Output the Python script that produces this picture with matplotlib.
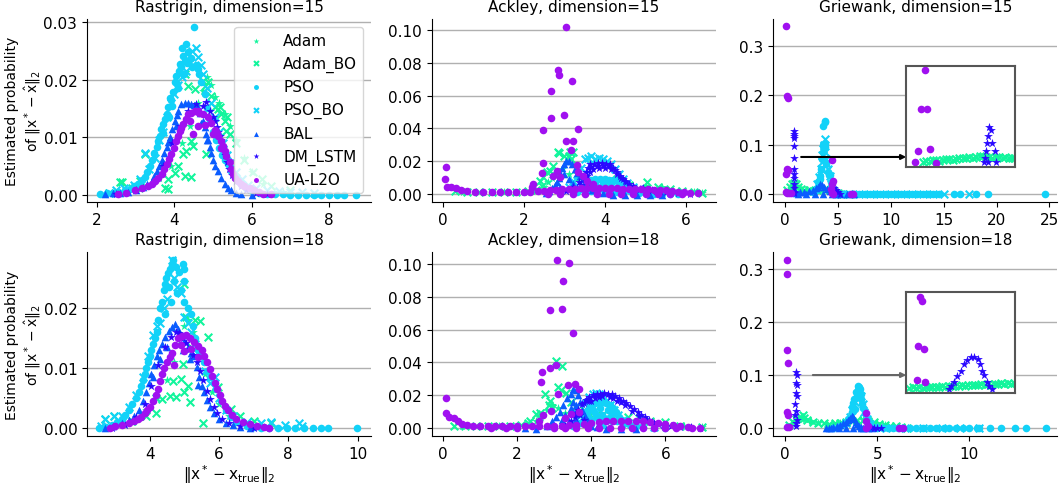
import numpy as np
import matplotlib
matplotlib.use('Agg')
import matplotlib.pyplot as plt

plt.rcParams['font.family'] = 'DejaVu Sans'
plt.rcParams['font.size'] = 11
plt.rcParams['mathtext.default'] = 'regular'

# (distance, estimated probability) points
METHODS = ['Adam', 'Adam_BO', 'PSO', 'PSO_BO', 'BAL', 'DM_LSTM', 'UA-L2O']

# ---- Rastrigin, dimension=15
R15_ADAM = [(2.6, 0.0003), (3.1, 0.001), (3.6, 0.003), (3.9, 0.005), (4.2, 0.009), (4.4, 0.012), (4.6, 0.016),
            (4.75, 0.018), (4.85, 0.0205), (4.95, 0.019), (5.05, 0.017), (5.15, 0.016), (5.3, 0.014),
            (5.45, 0.012), (5.6, 0.0095), (5.8, 0.0065), (6.0, 0.004), (6.3, 0.002), (6.8, 0.0006)]
R15_ADAM_BO = [(2.3, 0.0004), (2.59, 0.0022), (2.64, 0.0022), (2.9, 0.0012), (3.11, 0.0025), (3.24, 0.0071),
               (3.75, 0.0013), (3.83, 0.001), (3.84, 0.0028), (4.01, 0.0039), (4.1, 0.0051), (4.22, 0.0071),
               (4.27, 0.0033), (4.31, 0.0077), (4.44, 0.0031), (4.44, 0.0094), (4.48, 0.0085), (4.83, 0.0071),
               (4.27, 0.021), (4.35, 0.0189), (4.53, 0.0184), (4.74, 0.0198), (4.78, 0.0189), (4.87, 0.0195),
               (4.96, 0.0172), (4.99, 0.0132), (5.04, 0.0152), (5.13, 0.0149), (5.17, 0.0152), (5.21, 0.014),
               (5.3, 0.0129), (5.34, 0.0111), (5.35, 0.0135), (5.45, 0.0105), (5.6, 0.009), (5.8, 0.006),
               (6.03, 0.004), (6.28, 0.0028), (6.5, 0.0015), (7.0, 0.0008)]
R15_PSO = [(2.08, 0.0002), (2.25, 0.0003), (2.4, 0.0004), (2.55, 0.0006), (2.72, 0.0008), (2.85, 0.0011),
           (2.96, 0.0015), (3.06, 0.0019), (3.16, 0.0026), (3.24, 0.0032), (3.3, 0.004), (3.36, 0.005),
           (3.41, 0.006), (3.47, 0.0072), (3.54, 0.0083), (3.58, 0.0093), (3.62, 0.0103), (3.66, 0.0114),
           (3.71, 0.0123), (3.75, 0.0132), (3.8, 0.014), (3.84, 0.0152), (3.88, 0.0169), (3.92, 0.0165),
           (3.96, 0.0178), (4.01, 0.0195), (4.05, 0.0207), (4.08, 0.0192), (4.12, 0.0215), (4.14, 0.0227),
           (4.18, 0.0222), (4.22, 0.0241), (4.27, 0.0232), (4.31, 0.0262), (4.36, 0.0248), (4.4, 0.0236),
           (4.44, 0.0237), (4.5, 0.0292), (4.55, 0.0225), (4.6, 0.0218), (4.65, 0.021), (4.7, 0.0195),
           (4.78, 0.0175), (4.85, 0.015), (4.92, 0.013), (5.0, 0.011), (5.08, 0.0095), (5.15, 0.0082),
           (5.22, 0.007), (5.3, 0.006), (5.38, 0.0054), (5.46, 0.0042), (5.56, 0.0031), (5.65, 0.0024),
           (5.73, 0.0019), (5.85, 0.0012), (6.0, 0.0007), (6.2, 0.0004), (6.4, 0.0002), (6.6, 0.0001),
           (6.8, 0.0001), (7.0, 0.0), (7.2, 0.0), (7.4, 0.0), (7.6, 0.0), (7.8, 0.0), (8.0, 0.0), (8.2, 0.0),
           (8.4, 0.0), (8.7, 0.0), (3.95, 0.0155), (4.1, 0.0185), (4.25, 0.021), (4.2, 0.0255), (4.33, 0.0228),
           (4.46, 0.0222), (3.85, 0.0135), (3.7, 0.0108)]
R15_PSO_BO = [(2.3, 0.0003), (2.5, 0.0008), (2.7, 0.0012), (2.95, 0.0018), (3.1, 0.0028), (3.24, 0.0072),
              (3.35, 0.0045), (3.5, 0.0065), (3.6, 0.0095), (3.7, 0.011), (3.82, 0.0135), (3.9, 0.016),
              (4.0, 0.0175), (4.1, 0.019), (4.2, 0.0205), (4.3, 0.0215), (4.38, 0.0232), (4.45, 0.025),
              (4.55, 0.0255), (4.6, 0.024), (4.68, 0.0225), (4.75, 0.021), (4.85, 0.0185), (4.95, 0.016),
              (5.05, 0.0135), (5.15, 0.011), (5.25, 0.009), (5.35, 0.007), (5.45, 0.0055), (5.6, 0.004),
              (5.75, 0.0028), (5.9, 0.0018), (6.1, 0.0012), (6.4, 0.0009), (6.7, 0.0007), (7.0, 0.0006),
              (7.3, 0.0005), (7.6, 0.0003)]
R15_BAL = [(2.2, 0.0002), (2.4, 0.0003), (2.6, 0.0004), (2.8, 0.0005), (3.0, 0.0009), (3.19, 0.0014),
           (3.3, 0.0019), (3.41, 0.0025), (3.48, 0.0033), (3.54, 0.0042), (3.6, 0.005), (3.67, 0.006),
           (3.74, 0.0072), (3.8, 0.0083), (3.84, 0.0092), (3.88, 0.01), (3.94, 0.0115), (4.01, 0.0129),
           (4.06, 0.0138), (4.1, 0.0146), (4.18, 0.0158), (4.27, 0.016), (4.36, 0.0159), (4.44, 0.0158),
           (4.52, 0.0156), (4.6, 0.0153), (4.67, 0.0142), (4.74, 0.0129), (4.79, 0.0118), (4.83, 0.0106),
           (4.87, 0.0095), (4.91, 0.0083), (4.95, 0.0072), (5.0, 0.006), (5.06, 0.005), (5.12, 0.0042),
           (5.21, 0.003), (5.3, 0.0019), (5.38, 0.0013), (5.47, 0.0008), (5.6, 0.0004), (5.73, 0.0002),
           (6.0, 0.0), (3.7, 0.0058), (3.9, 0.0095), (4.05, 0.012), (4.7, 0.0125), (4.85, 0.0095)]
R15_DM = [(2.5, 0.0002), (3.0, 0.0008), (3.4, 0.002), (3.7, 0.005), (3.95, 0.009), (4.15, 0.012), (4.35, 0.0145),
          (4.55, 0.0158), (4.74, 0.0155), (4.83, 0.0161), (4.92, 0.0145), (5.0, 0.0135), (5.04, 0.0129),
          (5.1, 0.0118), (5.13, 0.011), (5.17, 0.0102), (5.21, 0.0095), (5.26, 0.0082), (5.3, 0.007),
          (5.36, 0.0058), (5.42, 0.0046), (5.5, 0.0035), (5.6, 0.0024), (5.72, 0.0015), (5.85, 0.0008),
          (6.1, 0.0003), (6.4, 0.0001)]
R15_UA = [(2.55, 0.0002), (2.75, 0.0004), (2.98, 0.0008), (3.15, 0.0012), (3.33, 0.0016), (3.42, 0.002),
          (3.5, 0.0025), (3.58, 0.003), (3.67, 0.0036), (3.74, 0.0045), (3.8, 0.0054), (3.86, 0.0062),
          (3.92, 0.0071), (3.98, 0.0082), (4.05, 0.0094), (4.1, 0.0102), (4.14, 0.0111), (4.18, 0.0117),
          (4.22, 0.0123), (4.29, 0.0132), (4.35, 0.014), (4.44, 0.0143), (4.53, 0.0146), (4.6, 0.0145),
          (4.65, 0.0143), (4.75, 0.014), (4.87, 0.0135), (4.96, 0.0125), (5.04, 0.0113), (5.09, 0.0108),
          (5.13, 0.0102), (5.2, 0.0094), (5.26, 0.0085), (5.3, 0.0076), (5.34, 0.0068), (5.43, 0.0057),
          (5.47, 0.0046), (5.51, 0.0036), (5.58, 0.003), (5.64, 0.0025), (5.72, 0.002), (5.81, 0.0016),
          (5.95, 0.0012), (6.07, 0.0008), (6.2, 0.0005), (6.3, 0.0002), (6.5, 0.0001), (4.48, 0.0105),
          (4.62, 0.012), (4.8, 0.0122), (5.0, 0.0105), (4.4, 0.0128), (5.2, 0.0082)]

# ---- Ackley, dimension=15
A15_ADAM = [(0.5, 0.0012), (1.0, 0.0012), (1.5, 0.0012), (2.0, 0.0013), (2.3, 0.002), (2.5, 0.004), (2.6, 0.007),
            (2.7, 0.01), (2.8, 0.013), (2.95, 0.015), (3.1, 0.012), (3.3, 0.009), (3.7, 0.0081), (4.0, 0.007),
            (4.29, 0.0092), (4.6, 0.006), (5.0, 0.005), (5.4, 0.004), (5.8, 0.002), (6.2, 0.001), (6.4, 0.0005)]
A15_ADAM_BO = [(0.3, 0.0015), (0.6, 0.0013), (0.9, 0.0012), (1.2, 0.0013), (1.5, 0.0012), (1.8, 0.0014),
               (2.1, 0.0015), (2.3, 0.0025), (2.4, 0.0081), (2.44, 0.005), (2.48, 0.0102), (2.56, 0.0132),
               (2.64, 0.0142), (2.72, 0.017), (2.85, 0.0254), (2.86, 0.0248), (2.99, 0.0234), (3.12, 0.0234),
               (3.14, 0.0254), (3.16, 0.0213), (3.22, 0.0254), (3.3, 0.015), (3.4, 0.011), (3.7, 0.0081),
               (4.0, 0.006), (4.29, 0.0092), (4.6, 0.0055), (5.03, 0.0071), (5.3, 0.004), (5.6, 0.003),
               (5.9, 0.002), (6.2, 0.001), (6.4, 0.0003)]
A15_PSO = [(3.3, 0.001), (3.4, 0.003), (3.5, 0.005), (3.58, 0.007), (3.66, 0.0085), (3.75, 0.009), (3.88, 0.0092),
           (4.0, 0.009), (4.1, 0.0088), (4.2, 0.0085), (4.3, 0.008), (4.4, 0.0068), (4.48, 0.005), (4.55, 0.0035),
           (4.62, 0.002), (4.7, 0.0012), (4.85, 0.0006), (5.0, 0.0003), (5.2, 0.0001), (5.4, 0.0), (5.6, 0.0),
           (5.8, 0.0), (3.7, 0.005), (3.9, 0.0045), (4.1, 0.004), (4.3, 0.0035), (3.8, 0.002), (4.05, 0.0015),
           (4.3, 0.001), (3.6, 0.0035), (3.75, 0.0065), (3.95, 0.007), (4.15, 0.0065), (4.35, 0.0055),
           (4.5, 0.0025), (3.65, 0.0015), (4.2, 0.002), (4.45, 0.0015), (3.95, 0.003)]
A15_PSO_BO = [(3.1, 0.004), (3.2, 0.008), (3.3, 0.012), (3.4, 0.016), (3.5, 0.0213), (3.58, 0.022), (3.66, 0.023),
              (3.75, 0.0215), (3.85, 0.0222), (3.95, 0.0213), (4.05, 0.02), (4.15, 0.0185), (4.25, 0.015),
              (4.35, 0.012), (4.45, 0.009), (4.55, 0.0065), (4.7, 0.0045), (4.85, 0.003), (5.0, 0.002),
              (5.3, 0.001), (5.7, 0.0004)]
A15_BAL = [(2.55, 0.0005), (2.62, 0.0015), (2.7, 0.0035), (2.76, 0.0055), (2.81, 0.0071), (2.86, 0.01), (2.9, 0.013),
           (2.95, 0.016), (3.0, 0.0185), (3.05, 0.0203), (3.12, 0.02), (3.18, 0.018), (3.25, 0.0155),
           (3.32, 0.013), (3.38, 0.0112), (3.45, 0.009), (3.52, 0.0065), (3.6, 0.0045), (3.68, 0.0025),
           (3.8, 0.0012), (3.95, 0.0005), (4.2, -0.0005), (4.5, -0.0008), (4.8, -0.0008), (5.1, -0.0006),
           (5.4, -0.0004), (3.0, 0.012), (3.1, 0.009), (3.2, 0.006), (2.9, 0.004), (3.3, 0.004)]
A15_DM = [(2.9, 0.0008), (3.05, 0.002), (3.2, 0.004), (3.35, 0.007), (3.46, 0.0102), (3.52, 0.0135), (3.58, 0.016),
          (3.63, 0.0183), (3.72, 0.0185), (3.82, 0.0186), (3.92, 0.0187), (4.02, 0.0185), (4.13, 0.0183),
          (4.2, 0.016), (4.29, 0.0132), (4.37, 0.0112), (4.45, 0.0092), (4.53, 0.007), (4.61, 0.0051),
          (4.72, 0.0038), (4.86, 0.003), (5.05, 0.0025), (5.27, 0.002), (5.5, 0.0012), (5.8, 0.0006),
          (6.1, 0.0002), (3.65, 0.0165), (3.8, 0.0168), (3.95, 0.017), (4.1, 0.0168), (3.55, 0.011),
          (4.25, 0.0145), (3.7, 0.0155), (3.85, 0.0158), (4.0, 0.0158), (4.15, 0.0155), (4.3, 0.012),
          (4.4, 0.0095), (4.5, 0.0078), (3.62, 0.0135), (3.5, 0.0085), (3.4, 0.0055), (4.6, 0.0062),
          (4.7, 0.0048), (4.95, 0.0035), (5.15, 0.0025), (5.35, 0.0018)]
A15_UA = [(0.07, 0.0167), (0.06, 0.0092), (0.1, 0.0045), (0.2, 0.004), (0.33, 0.0039), (0.45, 0.0025),
          (0.6, 0.0015), (0.8, 0.0012), (1.0, 0.001), (1.2, 0.001), (1.4, 0.001), (1.6, 0.001), (1.8, 0.001),
          (2.0, 0.001), (2.15, 0.0012), (2.21, 0.004), (2.23, 0.006), (2.44, 0.0126), (2.48, 0.0187),
          (2.46, 0.0392), (2.66, 0.0461), (2.67, 0.063), (2.71, 0.0112), (2.81, 0.0142), (2.84, 0.0756),
          (2.87, 0.0726), (2.89, 0.0102), (3.0, 0.0484), (3.03, 0.102), (3.04, 0.0321), (3.16, 0.027),
          (3.18, 0.0687), (3.2, 0.0321), (3.3, 0.0177), (3.34, 0.0396), (3.34, 0.0132), (3.45, 0.011),
          (3.55, 0.008), (3.7, 0.006), (2.35, 0.0015), (2.5, 0.002), (2.65, 0.0022), (2.8, 0.0025),
          (2.95, 0.0028), (3.1, 0.003), (3.25, 0.0032), (3.4, 0.0035), (3.55, 0.0035), (3.7, 0.0035),
          (3.85, 0.0035), (4.0, 0.0035), (4.15, 0.0035), (4.3, 0.0035), (4.45, 0.0033), (4.6, 0.0032),
          (4.75, 0.003), (4.9, 0.003), (5.05, 0.0028), (5.2, 0.0026), (5.35, 0.0025), (5.5, 0.0022),
          (5.65, 0.0018), (5.8, 0.0014), (5.95, 0.001), (6.1, 0.0007), (6.3, 0.0004), (2.6, 0.0), (2.9, 0.0),
          (3.2, 0.0), (3.5, 0.0), (3.8, 0.0), (4.1, 0.0), (4.4, 0.0), (4.7, 0.0), (5.0, 0.0), (5.3, 0.0),
          (5.6, 0.0), (5.9, 0.0)]

# ---- Griewank, dimension=15
G15_ADAM = [(0.3, 0.005), (0.5, 0.012), (0.7, 0.018), (0.9, 0.02), (1.1, 0.016), (1.3, 0.012), (1.6, 0.009),
            (2.0, 0.007), (2.5, 0.006), (3.0, 0.008), (3.5, 0.01), (4.0, 0.008), (4.5, 0.005), (5.0, 0.002),
            (5.5, 0.001)]
G15_ADAM_BO = [(0.2, 0.008), (0.4, 0.015), (0.6, 0.02), (0.8, 0.022), (1.0, 0.02), (1.2, 0.015), (1.5, 0.011),
               (1.8, 0.009), (2.2, 0.008), (2.6, 0.007), (3.0, 0.009), (3.4, 0.011), (3.8, 0.01), (4.2, 0.008),
               (4.6, 0.005), (5.0, 0.003), (5.5, 0.001), (6.0, 0.0005)]
G15_PSO = [(2.6, 0.004), (2.9, 0.008), (3.1, 0.025), (3.25, 0.037), (3.3, 0.03), (3.4, 0.05), (3.5, 0.07),
           (3.55, 0.085), (3.6, 0.1), (3.57, 0.138), (3.72, 0.145), (3.73, 0.148), (3.78, 0.102), (3.8, 0.095),
           (3.9, 0.06), (4.0, 0.045), (4.1, 0.038), (4.2, 0.038), (4.3, 0.025), (4.4, 0.012), (4.5, 0.004),
           (4.7, 0.001), (5.0, 0.0), (5.5, 0.0), (6.0, 0.0), (6.5, 0.0), (7.0, 0.0), (7.5, 0.0), (8.0, 0.0),
           (8.5, 0.0), (9.0, 0.0), (9.5, 0.0), (10.0, 0.0), (10.5, 0.0), (11.0, 0.0), (11.5, 0.0), (12.0, 0.0),
           (12.5, 0.0), (13.0, 0.0), (13.5, 0.0), (14.0, 0.0), (14.6, 0.0), (16.0, 0.0), (16.5, 0.0),
           (18.1, 0.0), (19.2, 0.0), (24.6, 0.0)]
G15_PSO_BO = [(3.0, 0.02), (3.2, 0.035), (3.35, 0.05), (3.45, 0.065), (3.5, 0.08), (3.57, 0.091), (3.62, 0.1),
              (3.72, 0.111), (3.68, 0.098), (3.8, 0.085), (3.88, 0.071), (3.95, 0.06), (4.05, 0.05), (4.2, 0.037),
              (4.35, 0.02), (4.5, 0.008), (4.8, 0.002), (5.3, 0.0), (6.0, 0.0), (7.0, 0.0), (8.0, 0.0), (9.0, 0.0),
              (10.0, 0.0), (11.0, 0.0), (12.0, 0.0), (13.0, 0.0), (14.0, 0.0), (15.0, 0.0), (17.4, 0.0)]
G15_BAL = [(1.0, 0.003), (1.4, 0.004), (1.8, 0.005), (2.2, 0.007), (2.6, 0.009), (2.9, 0.012), (3.1, 0.015),
           (3.25, 0.02), (3.45, 0.018), (3.7, 0.014), (3.95, 0.01), (4.2, 0.006), (4.5, 0.003), (4.8, 0.001),
           (5.2, 0.0), (5.8, 0.0), (6.5, 0.0), (1.2, 0.0), (2.0, 0.0), (2.8, 0.0), (3.6, 0.0), (4.4, 0.0)]
G15_DM = [(0.8, 0.128), (0.85, 0.122), (0.82, 0.118), (0.8, 0.114), (0.83, 0.097), (0.82, 0.073), (0.85, 0.05),
          (0.8, 0.04), (0.83, 0.032), (0.86, 0.02), (0.82, 0.012), (0.8, 0.005), (0.85, 0.002), (4.6, 0.012),
          (4.8, 0.008), (5.0, 0.004), (5.2, 0.001)]
G15_UA = [(0.1, 0.339), (0.19, 0.198), (0.22, 0.195), (0.2, 0.05), (0.1, 0.04), (0.22, 0.048), (0.1, 0.005),
          (0.2, 0.002), (0.35, 0.003), (0.5, 0.002), (4.45, 0.069), (4.5, 0.027), (4.4, 0.02), (4.35, 0.01),
          (4.4, 0.003), (4.5, 0.0), (6.2, 0.0), (6.4, 0.0)]
# zoomed box near the origin
G15_IN_UA = [(0.185, 0.335), (0.151, 0.202), (0.208, 0.202), (0.242, 0.064), (0.121, 0.054), (0.09, 0.019),
             (0.297, 0.015)]
G15_IN_DM = [(0.836, 0.137), (0.858, 0.13), (0.822, 0.107), (0.814, 0.084), (0.869, 0.084), (0.803, 0.056),
             (0.891, 0.056), (0.799, 0.032), (0.902, 0.018), (0.788, 0.018), (0.822, 0.018)]
G15_IN_ADAM_BO = [(0.167, 0.0186), (0.2, 0.021), (0.235, 0.0207), (0.27, 0.024), (0.302, 0.0231), (0.335, 0.022),
                  (0.369, 0.0242), (0.4, 0.027), (0.436, 0.0266), (0.47, 0.025), (0.503, 0.029), (0.535, 0.031),
                  (0.57, 0.0322), (0.6, 0.03), (0.637, 0.0347), (0.67, 0.033), (0.704, 0.0357), (0.74, 0.037),
                  (0.771, 0.0382), (0.8, 0.034), (0.838, 0.0357), (0.87, 0.032), (0.905, 0.0336), (0.94, 0.035),
                  (0.972, 0.0322), (1.0, 0.034), (1.04, 0.0312), (1.07, 0.033), (1.09, 0.03)]

# ---- Rastrigin, dimension=18
R18_ADAM = [(2.9, 0.0003), (3.5, 0.001), (3.9, 0.003), (4.2, 0.005), (4.5, 0.008), (4.7, 0.011), (4.85, 0.014),
            (5.0, 0.017), (5.1, 0.018), (5.25, 0.016), (5.4, 0.013), (5.6, 0.009), (5.8, 0.006), (6.0, 0.004),
            (6.3, 0.002), (6.8, 0.0006), (7.3, 0.0002)]
R18_ADAM_BO = [(2.7, 0.0015), (2.98, 0.002), (3.5, 0.0012), (3.9, 0.002), (4.19, 0.0026), (4.19, 0.005),
               (4.35, 0.0049), (4.58, 0.0054), (4.67, 0.0079), (4.75, 0.0052), (4.91, 0.0082), (4.96, 0.0107),
               (4.98, 0.006), (5.0, 0.024), (5.05, 0.0185), (5.15, 0.0043), (5.1, 0.007), (5.2, 0.0135),
               (5.3, 0.018), (5.44, 0.0179), (5.53, 0.0009), (5.68, 0.0151), (5.97, 0.0068), (6.35, 0.0032),
               (6.6, 0.002), (7.0, 0.0012), (7.5, 0.0008)]
R18_PSO = [(2.55, 0.0), (2.75, 0.0002), (2.9, 0.0005), (3.05, 0.001), (3.2, 0.0015), (3.3, 0.0022), (3.4, 0.003),
           (3.5, 0.004), (3.6, 0.005), (3.68, 0.006), (3.75, 0.007), (3.8, 0.008), (3.85, 0.009), (3.9, 0.01),
           (3.95, 0.011), (4.0, 0.012), (4.05, 0.013), (4.1, 0.014), (4.15, 0.015), (4.2, 0.016), (4.25, 0.018),
           (4.3, 0.02), (4.35, 0.021), (4.4, 0.023), (4.44, 0.024), (4.48, 0.025), (4.53, 0.0258), (4.58, 0.0265),
           (4.63, 0.0272), (4.67, 0.0279), (4.75, 0.0268), (4.85, 0.026), (4.96, 0.0273), (4.99, 0.0265),
           (5.0, 0.0245), (4.91, 0.023), (5.0, 0.021), (5.1, 0.02), (5.18, 0.019), (5.25, 0.017), (5.32, 0.015),
           (5.4, 0.013), (5.48, 0.012), (5.56, 0.011), (5.65, 0.0095), (5.75, 0.0085), (5.9, 0.0065),
           (6.05, 0.0045), (6.2, 0.003), (6.35, 0.0018), (6.5, 0.001), (6.8, 0.0004), (7.0, 0.0002), (7.2, 0.0),
           (7.45, 0.0), (7.7, 0.0), (7.95, 0.0), (8.2, 0.0), (8.45, 0.0), (8.7, 0.0), (8.95, 0.0), (9.15, 0.0),
           (9.97, 0.0), (4.55, 0.0235), (4.7, 0.0245), (4.8, 0.0225), (4.6, 0.021), (4.45, 0.019)]
R18_PSO_BO = [(2.6, 0.0003), (2.7, 0.0015), (2.98, 0.002), (3.2, 0.002), (3.4, 0.0035), (3.6, 0.0055),
              (3.8, 0.0085), (3.95, 0.012), (4.1, 0.0155), (4.2, 0.017), (4.3, 0.0175), (4.4, 0.02),
              (4.5, 0.0215), (4.65, 0.028), (4.7, 0.025), (4.8, 0.0235), (4.9, 0.0225), (5.0, 0.0185),
              (5.1, 0.0175), (5.2, 0.016), (5.3, 0.014), (5.44, 0.012), (5.6, 0.0095), (5.75, 0.0075),
              (5.87, 0.0085), (6.0, 0.005), (6.2, 0.003), (6.4, 0.002), (6.8, 0.001), (7.2, 0.0008),
              (7.5, 0.001), (7.9, 0.0005), (8.3, 0.0008), (8.4, 0.0003)]
R18_BAL = [(2.7, 0.0), (2.95, 0.0003), (3.2, 0.0008), (3.4, 0.0013), (3.55, 0.002), (3.7, 0.003), (3.8, 0.0045),
           (3.9, 0.006), (3.98, 0.0075), (4.05, 0.009), (4.12, 0.0105), (4.2, 0.012), (4.28, 0.013), (4.35, 0.014),
           (4.45, 0.0152), (4.55, 0.0162), (4.65, 0.0168), (4.73, 0.0173), (4.82, 0.0165), (4.9, 0.0155),
           (5.0, 0.0145), (5.1, 0.0135), (5.2, 0.0125), (5.28, 0.012), (5.35, 0.0102), (5.42, 0.0085),
           (5.5, 0.007), (5.56, 0.006), (5.65, 0.0047), (5.75, 0.0035), (5.85, 0.0025), (6.0, 0.0015),
           (6.2, 0.0009), (6.4, 0.0005), (6.6, 0.0002), (6.9, 0.0), (4.1, 0.0085), (4.3, 0.0115), (4.5, 0.0135),
           (4.95, 0.013), (5.15, 0.0115), (5.4, 0.0072)]
R18_DM = [(2.9, 0.0001), (3.3, 0.0006), (3.6, 0.0018), (3.85, 0.004), (4.05, 0.007), (4.25, 0.0105),
          (4.45, 0.0135), (4.6, 0.0152), (4.75, 0.016), (4.85, 0.0158), (4.95, 0.015), (5.05, 0.0142),
          (5.15, 0.0132), (5.25, 0.0122), (5.35, 0.011), (5.45, 0.0095), (5.55, 0.008), (5.65, 0.0062),
          (5.75, 0.0048), (5.85, 0.0035), (5.95, 0.0025), (6.1, 0.0015), (6.3, 0.0008), (6.6, 0.0003),
          (7.0, 0.0001)]
R18_UA = [(2.85, 0.0), (3.0, 0.0003), (3.2, 0.0005), (3.4, 0.0008), (3.55, 0.0012), (3.65, 0.0015),
          (3.75, 0.0018), (3.85, 0.0025), (3.92, 0.003), (4.0, 0.0035), (4.08, 0.0045), (4.17, 0.0055),
          (4.25, 0.0065), (4.3, 0.0078), (4.35, 0.009), (4.42, 0.01), (4.5, 0.011), (4.58, 0.0118),
          (4.65, 0.0125), (4.74, 0.0138), (4.83, 0.015), (4.93, 0.0153), (5.05, 0.0155), (5.16, 0.015),
          (5.28, 0.0143), (5.4, 0.0137), (5.5, 0.013), (5.58, 0.012), (5.65, 0.011), (5.73, 0.0098),
          (5.8, 0.0087), (5.88, 0.0075), (5.95, 0.0065), (6.02, 0.0055), (6.1, 0.0045), (6.18, 0.0037),
          (6.25, 0.003), (6.38, 0.0022), (6.5, 0.0015), (6.7, 0.001), (6.9, 0.0007), (7.1, 0.0004),
          (7.3, 0.0002), (7.45, 0.0001), (4.7, 0.0105), (5.0, 0.0128), (5.2, 0.0132), (5.4, 0.0118),
          (4.9, 0.0138)]

# ---- Ackley, dimension=18
A18_ADAM = [(0.5, 0.0012), (1.0, 0.0012), (1.5, 0.0012), (2.0, 0.0013), (2.3, 0.002), (2.5, 0.004), (2.65, 0.007),
            (2.8, 0.011), (2.95, 0.014), (3.1, 0.012), (3.3, 0.009), (3.6, 0.008), (4.0, 0.007), (4.5, 0.006),
            (5.0, 0.005), (5.5, 0.004), (6.0, 0.002), (6.5, 0.001), (7.0, 0.0005)]
A18_ADAM_BO = [(0.3, 0.0015), (0.6, 0.0014), (0.9, 0.0013), (1.2, 0.0014), (1.5, 0.0013), (1.8, 0.0015),
               (2.1, 0.0016), (2.34, 0.0045), (2.28, 0.003), (2.52, 0.0085), (2.63, 0.009), (2.74, 0.0207),
               (2.88, 0.0167), (2.86, 0.014), (2.95, 0.012), (3.06, 0.041), (3.1, 0.0248), (3.18, 0.023),
               (3.21, 0.038), (3.31, 0.0215), (3.45, 0.016), (3.6, 0.013), (3.8, 0.011), (4.0, 0.01), (4.3, 0.008),
               (4.6, 0.007), (5.0, 0.0065), (5.3, 0.006), (5.6, 0.004), (6.0, 0.0035), (6.4, 0.0015),
               (7.0, 0.0005)]
A18_PSO = [(3.5, 0.001), (3.7, 0.003), (3.8, 0.006), (3.88, 0.009), (3.95, 0.012), (4.02, 0.014), (4.1, 0.0155),
           (4.2, 0.016), (4.3, 0.016), (4.4, 0.0155), (4.5, 0.014), (4.58, 0.012), (4.66, 0.0095), (4.74, 0.007),
           (4.82, 0.005), (4.92, 0.0032), (5.05, 0.002), (5.2, 0.001), (5.4, 0.0005), (5.7, 0.0002), (6.0, 0.0),
           (4.1, 0.009), (4.3, 0.008), (4.5, 0.007), (4.2, 0.004), (4.4, 0.004), (4.0, 0.005), (4.05, 0.011),
           (4.25, 0.012), (4.45, 0.011), (4.6, 0.009), (4.15, 0.0065), (4.35, 0.006), (4.55, 0.0045),
           (3.9, 0.007), (4.7, 0.004), (4.3, 0.002), (4.0, 0.0025)]
A18_PSO_BO = [(3.6, 0.005), (3.75, 0.01), (3.85, 0.015), (3.95, 0.019), (4.04, 0.021), (4.13, 0.0215),
              (4.22, 0.0205), (4.32, 0.019), (4.42, 0.017), (4.52, 0.014), (4.62, 0.011), (4.72, 0.008),
              (4.85, 0.005), (5.0, 0.003), (5.3, 0.0015), (5.7, 0.0006)]
A18_BAL = [(2.8, 0.0015), (2.95, 0.004), (3.05, 0.007), (3.15, 0.01), (3.25, 0.014), (3.35, 0.018), (3.45, 0.021),
           (3.52, 0.0235), (3.58, 0.023), (3.64, 0.02), (3.7, 0.016), (3.76, 0.011), (3.82, 0.0075), (3.9, 0.004),
           (4.0, 0.0015), (4.15, 0.0005), (3.3, 0.008), (3.45, 0.012), (3.55, 0.009), (3.4, 0.004), (3.6, 0.005),
           (4.4, -0.0005), (4.8, -0.0005), (5.2, -0.0004), (2.5, -0.0004), (2.2, -0.0003), (3.5, 0.016),
           (3.6, 0.014), (3.2, 0.005)]
A18_DM = [(3.3, 0.0015), (3.45, 0.004), (3.55, 0.007), (3.65, 0.011), (3.75, 0.0145), (3.85, 0.017), (3.95, 0.019),
          (4.05, 0.02), (4.15, 0.0208), (4.25, 0.021), (4.35, 0.0212), (4.45, 0.021), (4.55, 0.0205),
          (4.65, 0.0195), (4.75, 0.018), (4.85, 0.0165), (4.95, 0.015), (5.05, 0.0132), (5.15, 0.0115),
          (5.25, 0.0098), (5.35, 0.008), (5.45, 0.0065), (5.55, 0.005), (5.65, 0.0038), (5.8, 0.0027),
          (5.95, 0.0018), (6.15, 0.001), (6.4, 0.0006), (6.7, 0.0003), (6.95, 0.0002), (3.9, 0.0175),
          (4.2, 0.019), (4.5, 0.019), (4.8, 0.016), (3.7, 0.008), (3.8, 0.005), (3.8, 0.0155), (3.95, 0.0165),
          (4.1, 0.0185), (4.3, 0.0192), (4.6, 0.0185), (4.7, 0.0165), (4.9, 0.0138), (5.1, 0.0105),
          (5.3, 0.0075), (5.5, 0.0048), (5.7, 0.003), (3.6, 0.009), (4.0, 0.0165)]
A18_UA = [(3.07, 0.1024), (3.39, 0.1004), (3.23, 0.0894), (2.89, 0.072), (3.21, 0.0725), (3.52, 0.058),
          (3.06, 0.0387), (2.88, 0.0365), (2.68, 0.034), (2.65, 0.028), (3.37, 0.026), (3.55, 0.027),
          (3.66, 0.024), (3.1, 0.021), (2.92, 0.0105), (2.7, 0.008), (3.68, 0.0095), (3.46, 0.0085), (3.3, 0.006),
          (2.6, 0.004), (0.07, 0.0185), (0.08, 0.009), (0.15, 0.0065), (0.3, 0.006), (0.4, 0.004), (0.5, 0.0025),
          (0.65, 0.0018), (0.8, 0.0015), (1.0, 0.0012), (1.2, 0.001), (1.4, 0.001), (1.6, 0.001), (1.8, 0.001),
          (2.0, 0.001), (2.2, 0.001), (2.4, 0.0012), (2.6, 0.0012), (2.8, 0.0012), (3.0, 0.0015), (3.2, 0.0015),
          (3.4, 0.0018), (3.6, 0.002), (3.8, 0.0025), (4.0, 0.003), (4.2, 0.0035), (4.4, 0.004), (4.6, 0.0042),
          (4.8, 0.0045), (5.0, 0.0045), (5.2, 0.0042), (5.4, 0.004), (5.6, 0.0035), (5.8, 0.003), (6.0, 0.0025),
          (6.2, 0.0018), (6.4, 0.0012), (6.6, 0.0008), (6.72, 0.0), (6.95, 0.0), (3.0, 0.0), (3.3, 0.0),
          (3.6, 0.0), (3.9, 0.0), (4.2, 0.0), (4.5, 0.0), (4.8, 0.0), (5.1, 0.0), (5.4, 0.0), (5.7, 0.0),
          (6.0, 0.0), (6.3, 0.0), (1.3, 0.0), (1.7, 0.0), (2.0, 0.0)]

# ---- Griewank, dimension=18
G18_ADAM = [(0.3, 0.008), (0.5, 0.014), (0.7, 0.018), (0.9, 0.02), (1.1, 0.017), (1.4, 0.013), (1.8, 0.01),
            (2.2, 0.008), (2.6, 0.008), (3.0, 0.01), (3.4, 0.012), (3.8, 0.014), (4.2, 0.015), (4.6, 0.012),
            (5.0, 0.009), (5.4, 0.006), (5.8, 0.004), (6.2, 0.002), (6.5, 0.001)]
G18_ADAM_BO = [(0.2, 0.005), (0.4, 0.012), (0.6, 0.017), (0.8, 0.021), (0.96, 0.024), (1.0, 0.019), (1.2, 0.016),
               (1.5, 0.012), (1.8, 0.01), (2.1, 0.009), (2.4, 0.008), (2.7, 0.009), (3.0, 0.01), (3.3, 0.011),
               (3.6, 0.013), (3.9, 0.015), (4.2, 0.016), (4.5, 0.014), (4.8, 0.011), (5.1, 0.008), (5.4, 0.006),
               (5.7, 0.004), (6.0, 0.003), (6.3, 0.002), (6.6, 0.001)]
G18_PSO = [(2.6, 0.0), (3.0, 0.003), (3.2, 0.008), (3.4, 0.018), (3.6, 0.03), (3.7, 0.048), (3.8, 0.036),
           (3.9, 0.06), (3.95, 0.08), (4.0, 0.077), (4.05, 0.073), (4.1, 0.055), (4.2, 0.038), (4.35, 0.028),
           (4.5, 0.015), (4.6, 0.006), (4.75, 0.002), (3.85, 0.068), (4.1, 0.065), (3.75, 0.055), (4.15, 0.045),
           (3.65, 0.04), (5.0, 0.0), (5.3, 0.0), (5.6, 0.0), (5.85, 0.0), (6.1, 0.0), (6.4, 0.0), (6.75, 0.0),
           (7.1, 0.0), (7.5, 0.0), (7.85, 0.0), (8.2, 0.0), (8.6, 0.0), (8.9, 0.0), (9.3, 0.0), (9.65, 0.0),
           (10.0, 0.0), (10.4, 0.0), (10.55, 0.0), (11.1, 0.0), (11.7, 0.0), (12.5, 0.0), (13.1, 0.0),
           (14.15, 0.0)]
G18_PSO_BO = [(3.3, 0.01), (3.5, 0.02), (3.65, 0.035), (3.8, 0.05), (3.9, 0.065), (4.0, 0.07), (4.1, 0.06),
              (4.2, 0.045), (4.3, 0.03), (4.45, 0.018), (4.6, 0.008), (4.8, 0.002), (5.5, 0.0), (6.5, 0.0),
              (7.5, 0.0), (8.5, 0.0), (9.5, 0.0), (10.5, 0.0)]
G18_BAL = [(2.2, 0.0), (2.4, 0.0005), (2.6, 0.0015), (2.8, 0.003), (3.0, 0.006), (3.15, 0.009), (3.3, 0.012),
           (3.42, 0.016), (3.52, 0.019), (3.6, 0.022), (3.68, 0.021), (3.76, 0.017), (3.84, 0.012), (3.92, 0.008),
           (4.0, 0.004), (4.1, 0.002), (4.25, 0.0008), (4.5, 0.0), (4.7, 0.0), (2.5, 0.0), (2.9, 0.0), (3.3, 0.0),
           (3.7, 0.0), (4.1, 0.0)]
G18_DM = [(0.6, 0.105), (0.65, 0.101), (0.58, 0.085), (0.65, 0.082), (0.58, 0.066), (0.62, 0.061), (0.55, 0.045),
          (0.6, 0.032), (0.55, 0.024), (0.62, 0.015), (0.58, 0.009), (0.6, 0.003), (4.6, 0.002), (4.8, 0.0),
          (5.0, 0.001), (5.2, 0.0)]
G18_UA = [(0.11, 0.316), (0.11, 0.29), (0.11, 0.147), (0.14, 0.123), (0.08, 0.03), (0.15, 0.025), (0.1, 0.002),
          (0.2, 0.002), (4.4, 0.029), (4.4, 0.013), (4.5, 0.004), (4.4, 0.0), (6.2, 0.0), (6.4, 0.0)]
G18_IN_UA = [(0.122, 0.314), (0.143, 0.3), (0.11, 0.153), (0.159, 0.142), (0.1, 0.041), (0.174, 0.036)]
G18_IN_DM = [(0.396, 0.013), (0.41, 0.023), (0.44, 0.036), (0.47, 0.056), (0.5, 0.073), (0.53, 0.096),
             (0.56, 0.109), (0.595, 0.116), (0.625, 0.119), (0.655, 0.112), (0.677, 0.096), (0.695, 0.073),
             (0.716, 0.059), (0.738, 0.036), (0.76, 0.023), (0.786, 0.013)]
G18_IN_ADAM_BO = [(0.03, 0.017), (0.06, 0.018), (0.09, 0.016), (0.12, 0.019), (0.15, 0.017), (0.18, 0.02),
                  (0.21, 0.018), (0.24, 0.021), (0.27, 0.02), (0.3, 0.021), (0.33, 0.022), (0.36, 0.02),
                  (0.39, 0.023), (0.42, 0.022), (0.45, 0.024), (0.48, 0.022), (0.51, 0.025), (0.54, 0.024),
                  (0.57, 0.026), (0.6, 0.025), (0.63, 0.027), (0.66, 0.025), (0.69, 0.028), (0.72, 0.026),
                  (0.75, 0.029), (0.78, 0.027), (0.81, 0.03), (0.84, 0.028), (0.87, 0.031), (0.9, 0.029),
                  (0.93, 0.032), (0.96, 0.03), (0.99, 0.031)]

COLORS = {'Adam': '#12f59c', 'Adam_BO': '#12f59c', 'PSO': '#12d2f8', 'PSO_BO': '#12d2f8',
          'BAL': '#0a5cff', 'DM_LSTM': '#2a08ff', 'UA-L2O': '#a010f0'}
MARKERS = {'Adam': '*', 'Adam_BO': 'x', 'PSO': 'o', 'PSO_BO': 'x',
           'BAL': '^', 'DM_LSTM': '*', 'UA-L2O': 'o'}
SIZES = {'Adam': 44, 'Adam_BO': 30, 'PSO': 30, 'PSO_BO': 30, 'BAL': 30, 'DM_LSTM': 44, 'UA-L2O': 30}

PANELS = [
    ('Rastrigin, dimension=15', [R15_ADAM, R15_ADAM_BO, R15_PSO, R15_PSO_BO, R15_BAL, R15_DM, R15_UA]),
    ('Ackley, dimension=15', [A15_ADAM, A15_ADAM_BO, A15_PSO, A15_PSO_BO, A15_BAL, A15_DM, A15_UA]),
    ('Griewank, dimension=15', [G15_ADAM, G15_ADAM_BO, G15_PSO, G15_PSO_BO, G15_BAL, G15_DM, G15_UA]),
    ('Rastrigin, dimension=18', [R18_ADAM, R18_ADAM_BO, R18_PSO, R18_PSO_BO, R18_BAL, R18_DM, R18_UA]),
    ('Ackley, dimension=18', [A18_ADAM, A18_ADAM_BO, A18_PSO, A18_PSO_BO, A18_BAL, A18_DM, A18_UA]),
    ('Griewank, dimension=18', [G18_ADAM, G18_ADAM_BO, G18_PSO, G18_PSO_BO, G18_BAL, G18_DM, G18_UA]),
]

XLIMS = [(1.74, 9.09), (-0.27, 6.74), (-1.14, 25.76), (2.19, 10.39), (-0.3, 7.37), (-0.65, 14.78)]
YLIMS = [(-0.0012, 0.0305), (-0.0049, 0.1067), (-0.016, 0.354), (-0.0013, 0.0293), (-0.0049, 0.1073),
         (-0.015, 0.332)]
XTICKS = [[2, 4, 6, 8], [0, 2, 4, 6], [0, 5, 10, 15, 20, 25], [4, 6, 8, 10], [0, 2, 4, 6], [0, 5, 10]]
YTICKS = [[0, 0.01, 0.02, 0.03], [0, 0.02, 0.04, 0.06, 0.08, 0.10], [0, 0.1, 0.2, 0.3],
          [0, 0.01, 0.02], [0, 0.02, 0.04, 0.06, 0.08, 0.10], [0, 0.1, 0.2, 0.3]]
YFMT = ['%.2f', '%.2f', '%.1f', '%.2f', '%.2f', '%.1f']


def xy(points):
    arr = np.array(points, dtype=float)
    return arr[:, 0], arr[:, 1]


def draw(ax, name, points):
    x, y = xy(points)
    lw = 1.5 if MARKERS[name] == 'x' else 0
    ax.scatter(x, y, s=SIZES[name], marker=MARKERS[name], color=COLORS[name], linewidths=lw, label=name)


def add_inset(ax, rect, ua, dm, adam_bo, xlim, ylim, arrow_y, arrow_x0, arrow_color):
    ins = ax.inset_axes(rect)
    draw(ins, 'Adam_BO', adam_bo)
    draw(ins, 'DM_LSTM', dm)
    draw(ins, 'UA-L2O', ua)
    ins.set_xlim(*xlim)
    ins.set_ylim(*ylim)
    ins.set_xticks([])
    ins.set_yticks([])
    for sp in ins.spines.values():
        sp.set_edgecolor('#555555')
        sp.set_linewidth(1.5)
    ax.annotate('', xy=(rect[0], arrow_y), xycoords=('axes fraction', 'data'),
                xytext=(arrow_x0, arrow_y), textcoords='data',
                arrowprops=dict(arrowstyle='-|>', color=arrow_color, lw=1.5,
                                mutation_scale=7, shrinkA=0, shrinkB=0))


fig = plt.figure(figsize=(10.6, 4.89), dpi=100)
lefts = [0.0821, 0.4075, 0.7295]
bottoms = [0.5849, 0.1063]
heights = [0.3742, 0.3763]
width = 0.268

axes = []
for i, (title, series) in enumerate(PANELS):
    r, c = divmod(i, 3)
    ax = fig.add_axes([lefts[c], bottoms[r], width, heights[r]])
    for name, pts in zip(METHODS, series):
        draw(ax, name, pts)
    ax.set_xlim(*XLIMS[i])
    ax.set_ylim(*YLIMS[i])
    ax.set_xticks(XTICKS[i])
    ax.set_yticks(YTICKS[i])
    ax.set_yticklabels([YFMT[i] % v for v in YTICKS[i]])
    ax.set_title(title, fontsize=11)
    ax.yaxis.grid(True, color='#b0b0b0', linewidth=1.0)
    ax.set_axisbelow(True)
    ax.spines['top'].set_visible(False)
    ax.spines['right'].set_visible(False)
    if c == 0:
        ax.set_ylabel('Estimated probability\nof $\\Vert x^* - \\hat{x}\\Vert_2$', fontsize=10)
        ax.yaxis.set_label_coords(-0.155, 0.5)
    if r == 1:
        ax.set_xlabel('$\\Vert x^* - x_{true}\\Vert_2$', labelpad=1)
    axes.append(ax)

axes[0].legend(loc='upper right', markerscale=0.65, fontsize=11)

add_inset(axes[2], [0.468, 0.191, 0.384, 0.552], G15_IN_UA, G15_IN_DM, G15_IN_ADAM_BO,
          (0.0, 1.1), (0.0, 0.35), 0.075, 1.5, 'black')
add_inset(axes[5], [0.468, 0.234, 0.384, 0.549], G18_IN_UA, G18_IN_DM, G18_IN_ADAM_BO,
          (0.0, 1.0), (0.0, 0.33), 0.1, 1.5, '#666666')

fig.savefig('out.png', dpi=100)
